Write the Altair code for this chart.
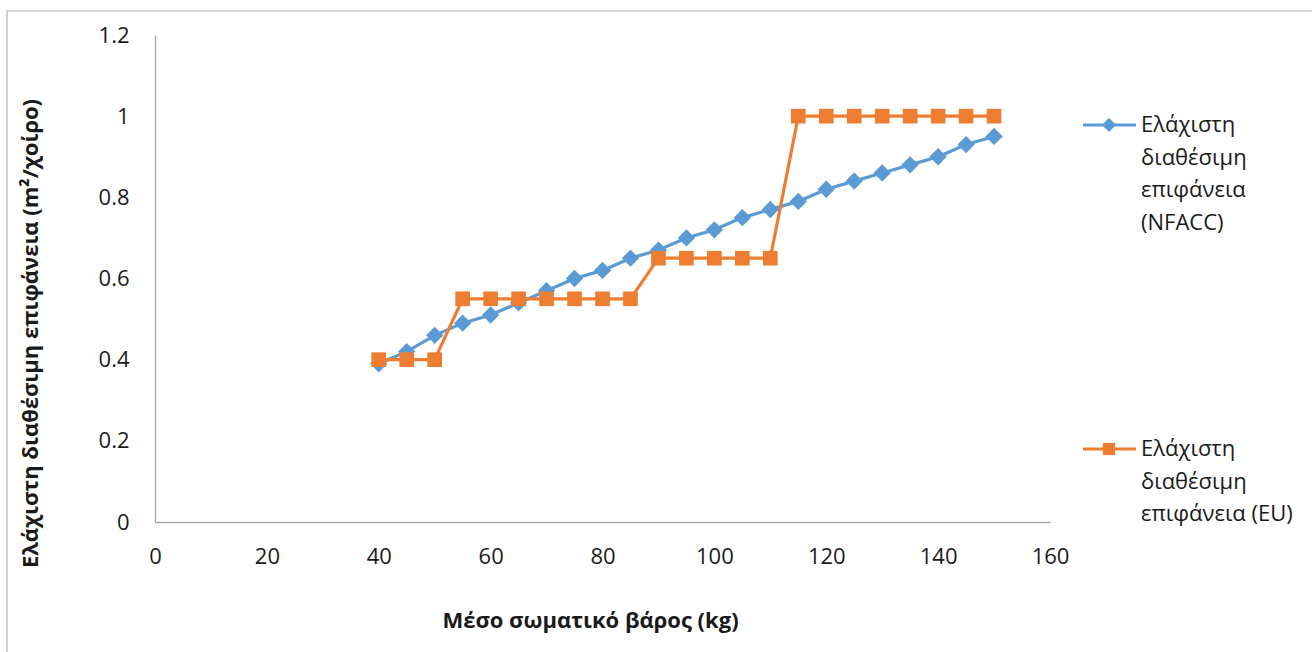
import altair as alt
import pandas as pd

# ---- data ----
weights = [40, 45, 50, 55, 60, 65, 70, 75, 80, 85, 90, 95, 100, 105, 110,
           115, 120, 125, 130, 135, 140, 145, 150]
nfacc = [0.39, 0.42, 0.46, 0.49, 0.51, 0.54, 0.57, 0.60, 0.62, 0.65, 0.67, 0.70,
         0.72, 0.75, 0.77, 0.79, 0.82, 0.84, 0.86, 0.88, 0.90, 0.93, 0.95]
eu = [0.40, 0.40, 0.40, 0.55, 0.55, 0.55, 0.55, 0.55, 0.55, 0.55, 0.65, 0.65,
      0.65, 0.65, 0.65, 1.00, 1.00, 1.00, 1.00, 1.00, 1.00, 1.00, 1.00]

series_names = ["Ελάχιστη διαθέσιμη επιφάνεια (NFACC)",
                "Ελάχιστη διαθέσιμη επιφάνεια (EU)"]
legend_lines = [["Ελάχιστη", "διαθέσιμη", "επιφάνεια", "(NFACC)"],
                ["Ελάχιστη", "διαθέσιμη", "επιφάνεια (EU)"]]
colors = ["#5b9bd5", "#ed7d31"]
shapes = ["diamond", "square"]
x_ticks = [0, 20, 40, 60, 80, 100, 120, 140, 160]
y_ticks = [0, 0.2, 0.4, 0.6, 0.8, 1.0, 1.2]
x_title = "Μέσο σωματικό βάρος (kg)"
y_title = "Ελάχιστη διαθέσιμη επιφάνεια (m²/χοίρο)"

rows = []
for w, v in zip(weights, nfacc):
    rows.append({"weight": w, "value": v, "series": series_names[0]})
for w, v in zip(weights, eu):
    rows.append({"weight": w, "value": v, "series": series_names[1]})
df = pd.DataFrame(rows)

FONT = "Open Sans"
TXT = "#1a1a1a"

x_enc = alt.X("weight:Q",
              scale=alt.Scale(domain=[0, 160], nice=False, zero=False),
              axis=alt.Axis(values=x_ticks, title=x_title, grid=False, ticks=False,
                            domainColor="#a6a6a6", domainWidth=1.3, labelFlush=False,
                            labelFontSize=22, labelColor=TXT, labelFont=FONT,
                            labelPadding=24,
                            titleFontSize=22, titleFont=FONT, titleFontWeight="bold",
                            titleColor=TXT, titleX=435, titleY=98,
                            titleAnchor="middle", titleBaseline="middle"))
y_enc = alt.Y("value:Q",
              scale=alt.Scale(domain=[0, 1.2], nice=False),
              axis=alt.Axis(values=y_ticks, title=y_title, grid=False, ticks=False,
                            domainColor="#a6a6a6", domainWidth=1.3, labelFlush=False,
                            labelFontSize=22, labelColor=TXT, labelFont=FONT,
                            labelPadding=26, labelExpr="format(datum.value, '.1~f')",
                            titleFontSize=22, titleFont=FONT, titleFontWeight="bold",
                            titleColor=TXT, titleX=-125, titleY=298,
                            titleAnchor="middle", titleBaseline="middle"))

color_enc = alt.Color("series:N", scale=alt.Scale(domain=series_names, range=colors),
                      legend=None)

base = alt.Chart(df)

lines = base.mark_line(strokeWidth=3.2).encode(x=x_enc, y=y_enc, color=color_enc)

pts_nfacc = base.transform_filter(alt.datum.series == series_names[0]).mark_point(
    shape="diamond", filled=True, size=300, opacity=1
).encode(x="weight:Q", y="value:Q", color=color_enc)

pts_eu = base.transform_filter(alt.datum.series == series_names[1]).mark_point(
    shape="square", filled=True, size=215, opacity=1
).encode(x="weight:Q", y="value:Q", color=color_enc)

# ---- legend (drawn as decoration to the right of the plot) ----
one = pd.DataFrame({"a": [0]})
legend_layers = []
legend_rows_y = [90, 414]
for i in range(2):
    yy = legend_rows_y[i]
    legend_layers.append(
        alt.Chart(one).mark_rule(color=colors[i], strokeWidth=3.2).encode(
            x=alt.value(928), x2=alt.value(981), y=alt.value(yy)))
    legend_layers.append(
        alt.Chart(one).mark_point(shape=shapes[i], filled=True, opacity=1, color=colors[i],
                                  size=200 if i == 0 else 150).encode(
            x=alt.value(954), y=alt.value(yy)))
    legend_layers.append(
        alt.Chart(one).mark_text(align="left", baseline="middle", font=FONT, fontSize=22,
                                 color=TXT, lineHeight=32.5).encode(
            x=alt.value(986), y=alt.value(yy), text=alt.value(legend_lines[i])))

border = alt.Chart(one).mark_rect(
    fill="transparent", stroke="#b4b4b4", strokeWidth=1.2
).encode(x=alt.value(-148), x2=alt.value(1180), y=alt.value(-24), y2=alt.value(640))

chart = alt.layer(border, lines, pts_nfacc, pts_eu, *legend_layers).properties(
    width=895, height=487,
    autosize=alt.AutoSizeParams(type="none"),
    padding={"left": 155, "top": 35, "right": 262, "bottom": 130},
    background="white",
).configure_view(stroke=None)

chart.save("out.html", embed_options={"renderer": "svg", "actions": False})
